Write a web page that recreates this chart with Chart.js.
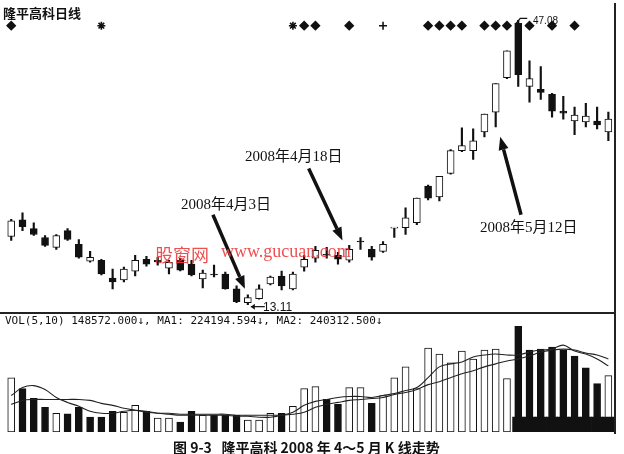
<!DOCTYPE html>
<html lang="zh-CN">
<head>
  <meta charset="UTF-8" />
  <title>隆平高科日线</title>
  <script src="https://cdn.jsdelivr.net/npm/chart.js"></script>
  <style>
    body { margin: 0; padding: 0; background: #fff; }
    #wrap { position: relative; width: 624px; height: 454px; overflow: hidden; }
    canvas { position: absolute; left: 0; top: 0; }
    .t { position: absolute; white-space: nowrap; color: #111; line-height: 1; }
    .title { left: 3px; top: 3px; font: bold 13px "Noto Sans CJK SC", sans-serif; }
    .note { font: 15px "Liberation Serif", "Noto Sans CJK SC", serif; }
    .num { font: 12px "Liberation Sans", sans-serif; }
    .vol { left: 5px; top: 314px; font: 11px "DejaVu Sans Mono", monospace; }
    .cap { left: 173px; top: 437px; font: bold 14px "Noto Sans CJK SC", sans-serif; }
    .wm { color: rgba(236, 60, 60, 0.9); font: 18px "Liberation Serif", "Noto Sans CJK SC", serif; }
    .hline { position: absolute; left: 0; top: 312px; width: 616px; height: 2px; background: #222; }
    .vline { position: absolute; left: 614px; top: 3px; width: 2px; height: 431px; background: #222; }
  </style>
</head>
<body>
<div id="wrap">
  <canvas id="kChart" width="624" height="454"></canvas>
  <div class="hline"></div>
  <div class="vline"></div>

  <div class="t title">隆平高科日线</div>
  <div class="t note" style="left:181px; top:192px;">2008年4月3日</div>
  <div class="t note" style="left:245px; top:144px;">2008年4月18日</div>
  <div class="t note" style="left:480px; top:215px;">2008年5月12日</div>
  <div class="t num" style="left:263px; top:300px;">13.11</div>
  <div class="t num" style="left:533px; top:15px; font-size:10px;">47.08</div>
  <div class="t wm" style="left:155px; top:241px;">股窗网</div>
  <div class="t wm" style="left:221px; top:241px;">www.gucuan.com</div>
  <div class="t vol">VOL(5,10) 148572.000↓, MA1: 224194.594↓, MA2: 240312.500↓</div>
  <div class="t cap">图 9-3&nbsp;&nbsp;&nbsp;隆平高科 2008 年 4～5 月 K 线走势</div>
</div>

<script>
  // trading days (2008)
  const days = ['03-05','03-06','03-07','03-10','03-11','03-12','03-13','03-14','03-17','03-18',
                '03-19','03-20','03-21','03-24','03-25','03-26','03-27','03-28','03-31','04-01',
                '04-02','04-03','04-07','04-08','04-09','04-10','04-11','04-14','04-15','04-16',
                '04-17','04-18','04-21','04-22','04-23','04-24','04-25','04-28','04-29','04-30',
                '05-05','05-06','05-07','05-08','05-09','05-12','05-13','05-14','05-15','05-16',
                '05-19','05-20','05-21','05-22'];

  const open  = [21.25,23.26,22.20,21.13,19.95,21.96,20.31,18.30,18.42,16.30,
                 16.06,17.12,18.54,18.40,17.48,18.42,17.95,16.18,16.77,16.77,
                 15.00,13.35,13.82,15.59,16.53,15.00,17.59,18.66,19.13,19.01,
                 18.42,20.72,19.72,19.48,22.25,22.31,22.90,27.27,25.97,28.80,
                 31.52,31.52,33.76,36.12,40.25,46.74,39.19,38.83,38.24,36.24,
                 35.06,34.94,35.06,33.76];
  const high  = [23.30,24.08,22.90,21.37,21.49,22.20,20.90,19.48,18.54,17.36,
                 17.59,19.01,18.89,18.77,18.42,18.66,18.42,17.24,17.83,17.00,
                 15.35,14.29,15.47,16.53,17.12,17.00,19.01,20.07,19.95,19.36,
                 20.19,21.13,20.07,20.66,22.31,24.67,25.85,27.39,28.45,31.64,
                 34.23,34.11,35.88,39.54,43.44,47.08,42.26,41.55,38.36,38.01,
                 36.71,37.18,36.71,36.12];
  const low   = [20.78,21.96,21.37,20.07,19.72,20.78,18.66,18.18,16.65,15.00,
                 15.82,16.53,17.71,17.83,16.77,17.15,16.53,15.12,16.41,14.95,
                 13.35,13.11,13.75,15.47,14.88,14.88,17.12,18.18,18.66,17.95,
                 18.18,19.72,18.42,19.36,21.13,21.49,22.67,25.62,25.50,28.69,
                 31.40,30.46,33.17,34.35,40.13,39.19,37.30,37.65,35.53,35.29,
                 33.41,34.35,34.11,32.70];
  const close = [23.14,22.43,21.49,20.19,21.37,20.90,18.77,18.77,16.77,15.82,
                 17.36,18.42,17.95,18.22,18.18,17.24,16.65,16.89,16.65,15.00,
                 13.46,13.94,15.00,16.41,15.35,16.77,18.54,19.60,19.01,18.54,
                 19.72,20.60,18.77,20.31,22.31,23.49,25.85,25.85,28.45,31.52,
                 32.11,32.70,35.88,39.54,43.44,40.60,40.13,38.48,36.24,36.00,
                 35.77,35.65,34.59,35.29];

  const vol   = [143000,114400,88400,65000,49400,48000,65000,39000,39000,54600,
                 52000,70200,54600,36400,36400,26000,54600,44200,44200,44200,
                 44200,31200,31200,49400,49400,67600,114400,119600,85800,72800,
                 117000,117000,75400,96200,143000,171600,114400,221000,205400,182000,
                 213200,192400,215800,218400,140400,278200,215800,218400,223600,215800,
                 200200,169000,127400,148572];
  // 1 = hollow (up) volume bar, 0 = solid
  const volUp = [1,0,0,0,1,0,0,0,0,0, 1,1,0,1,1,0,0,1,0,0,
                 0,1,1,1,0,1,1,1,0,0, 1,1,0,1,1,1,1,1,1,1,
                 1,1,1,1,1,0,0,0,0,0, 0,0,0,1];
  const ma1   = [96200,117000,122200,111800,91000,78000,67600,54600,49400,49400,
                 54600,57200,54600,49400,46800,44200,44200,44200,44200,44200,
                 41600,41600,39000,39000,44200,52000,70200,80600,85800,91000,
                 93600,93600,91000,96200,101400,109200,117000,143000,171600,179400,
                 184600,197600,202800,205400,202800,202800,210600,215800,218400,228800,
                 213200,205400,192400,174200];
  const ma2   = [72800,83200,85800,85800,85800,85800,85800,83200,75400,70200,
                 62400,57200,52000,49400,49400,46800,46800,46800,46800,46800,
                 44200,44200,44200,44200,44200,46800,52000,65000,72800,78000,
                 83200,85800,88400,91000,98800,104000,111800,124800,132600,143000,
                 153400,161200,171600,179400,187200,192400,200200,210600,215800,218400,
                 215800,208000,202800,192400];
  // dark smear under the last volume bars
  const bandStart = 45;
  const bandVol = 39000;

  // signal row along the top
  const signalIdx  = [0, 8, 25, 26, 27, 30, 33, 37, 38, 39, 40, 42, 43, 44, 46, 48, 50];
  const signalType = ['rectRot','star','star','rectRot','rectRot','rectRot','cross','rectRot','rectRot',
                      'rectRot','rectRot','rectRot','rectRot','rectRot','rectRot','rectRot','rectRot'];
  const signalLevel = 46.45;

  // price & volume share one canvas: price range on top, volume range at the bottom
  const priceMin = -2.11, priceMax = 48.85;
  const volMax = 1123200;

  // arrows given as [index, price]
  const arrows = [
    { from: [17.9, 23.85], to: [20.74, 15.0] },
    { from: [26.4, 29.39], to: [29.4, 20.78] },
    { from: [45.25, 23.85], to: [43.4, 33.17] }
  ];

  const up = open.map((o, i) => close[i] >= o);

  const annotate = {
    id: 'annotate',
    afterDatasetsDraw(chart) {
      const { ctx, scales: { x, y } } = chart;
      ctx.save();
      ctx.strokeStyle = '#111';
      ctx.fillStyle = '#111';
      arrows.forEach(a => {
        const x1 = x.getPixelForValue(a.from[0]), y1 = y.getPixelForValue(a.from[1]);
        const x2 = x.getPixelForValue(a.to[0]), y2 = y.getPixelForValue(a.to[1]);
        const ang = Math.atan2(y2 - y1, x2 - x1), head = 13, half = 5;
        const bx = x2 - head * Math.cos(ang), by = y2 - head * Math.sin(ang);
        ctx.lineWidth = 3.5;
        ctx.beginPath(); ctx.moveTo(x1, y1); ctx.lineTo(bx, by); ctx.stroke();
        ctx.beginPath();
        ctx.moveTo(x2, y2);
        ctx.lineTo(bx + half * Math.sin(ang), by - half * Math.cos(ang));
        ctx.lineTo(bx - half * Math.sin(ang), by + half * Math.cos(ang));
        ctx.closePath(); ctx.fill();
      });

      // leader to the low (13.11)
      const lowI = low.indexOf(Math.min(...low));
      const lx = x.getPixelForValue(lowI) + 3, ly = y.getPixelForValue(low[lowI]) + 2;
      ctx.lineWidth = 1.2;
      ctx.beginPath(); ctx.moveTo(lx, ly); ctx.lineTo(lx + 14, ly); ctx.stroke();
      ctx.beginPath(); ctx.moveTo(lx, ly); ctx.lineTo(lx + 4, ly - 3); ctx.lineTo(lx + 4, ly + 3); ctx.closePath(); ctx.fill();

      // leader to the high (47.08)
      const hiI = high.indexOf(Math.max(...high));
      const hx = x.getPixelForValue(hiI), hy = y.getPixelForValue(high[hiI]);
      ctx.beginPath(); ctx.moveTo(hx - 3, hy + 4); ctx.lineTo(hx + 2, hy - 2); ctx.lineTo(hx + 9, hy - 2); ctx.stroke();
      ctx.restore();
    }
  };

  new Chart(document.getElementById('kChart'), {
    type: 'bar',
    data: {
      labels: days,
      datasets: [
        {
          type: 'line',
          label: 'signal',
          data: days.map((d, i) => signalIdx.includes(i) ? signalLevel : null),
          yAxisID: 'y',
          showLine: false,
          pointStyle: days.map((d, i) => signalIdx.includes(i) ? signalType[signalIdx.indexOf(i)] : 'circle'),
          pointRadius: 4,
          pointBorderWidth: 1.6,
          pointBackgroundColor: '#111',
          pointBorderColor: '#111',
          order: -2
        },
        {
          label: 'body',
          data: open.map((o, i) => [o, close[i]]),
          yAxisID: 'y',
          barThickness: 7,
          minBarLength: 1,
          backgroundColor: up.map(u => u ? '#fff' : '#111'),
          borderColor: '#111',
          borderWidth: 1,
          borderSkipped: false,
          order: 1
        },
        {
          label: 'wick',
          data: low.map((l, i) => [l, high[i]]),
          yAxisID: 'y',
          barThickness: 1.5,
          backgroundColor: '#111',
          order: 2
        },
        {
          type: 'line',
          label: 'MA1',
          data: ma1,
          yAxisID: 'yv',
          borderColor: '#222',
          borderWidth: 1.1,
          pointRadius: 0,
          tension: 0.35,
          order: -1
        },
        {
          type: 'line',
          label: 'MA2',
          data: ma2,
          yAxisID: 'yv',
          borderColor: '#222',
          borderWidth: 1.1,
          pointRadius: 0,
          tension: 0.35,
          order: -1
        },
        {
          label: 'band',
          data: days.map((d, i) => i >= bandStart ? [0, bandVol] : null),
          yAxisID: 'yv',
          barPercentage: 1,
          categoryPercentage: 1,
          backgroundColor: '#111',
          order: 0
        },
        {
          label: 'VOL',
          data: vol,
          yAxisID: 'yv',
          barThickness: 7,
          backgroundColor: volUp.map(u => u ? '#fff' : '#111'),
          borderColor: '#111',
          borderWidth: 1,
          borderSkipped: false,
          order: 3
        }
      ]
    },
    options: {
      responsive: false,
      animation: false,
      layout: { padding: { left: 4, right: 10, top: 0, bottom: 22 } },
      datasets: { bar: { grouped: false } },
      plugins: { legend: { display: false }, tooltip: { enabled: false } },
      scales: {
        x: { display: false, offset: true },
        y: { display: false, min: priceMin, max: priceMax },
        yv: { display: false, min: 0, max: volMax, position: 'left' }
      }
    },
    plugins: [annotate]
  });
</script>
</body>
</html>
